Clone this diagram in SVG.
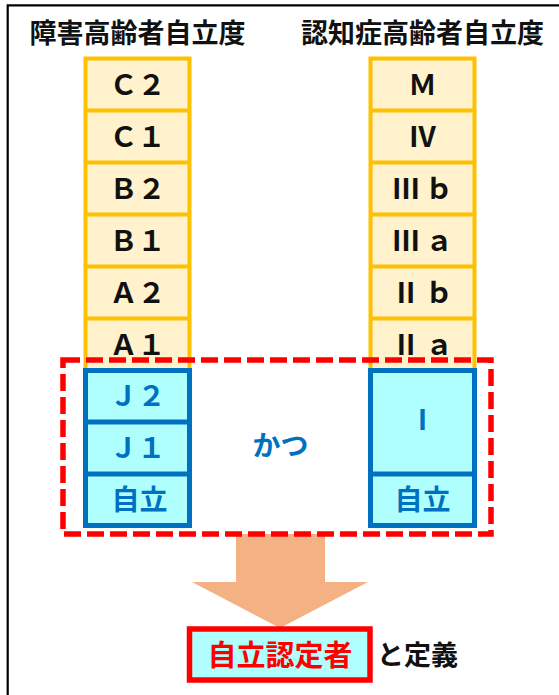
<svg xmlns="http://www.w3.org/2000/svg" width="559" height="695" viewBox="0 0 559 695">
<style>
text{font-family:"Noto Sans CJK JP","Noto Sans CJK SC",sans-serif;font-weight:bold;text-anchor:middle}
.t{font-size:27px;fill:#111}
.o{fill:#FFF2CC;stroke:#FFC000;stroke-width:4}
.b{fill:#B0FFFF;stroke:#0070C0;stroke-width:5}
.bl{stroke:#0070C0;stroke-width:5}
.ol{stroke:#FFC000;stroke-width:4}
.k{font-size:28px;fill:#111}
.u{font-size:28px;fill:#0070C0}
</style>
<rect width="559" height="695" fill="#fff"/>
<path d="M7.7 695V5.3H560" fill="none" stroke="#000" stroke-width="2.2"/>
<g id="title-left"><text class="t" x="137.5" y="43">障害高齢者自立度</text></g>
<g id="title-right"><text class="t" x="422.5" y="43">認知症高齢者自立度</text></g>
<g id="left-orange">
<rect class="o" x="85.5" y="58.5" width="104" height="312"/>
<path class="ol" d="M85.5 110.5H189.5M85.5 162.5H189.5M85.5 214.5H189.5M85.5 266.5H189.5M85.5 318.5H189.5"/>
<text class="k" x="137.5" y="95">Ｃ２</text>
<text class="k" x="137.5" y="147">Ｃ１</text>
<text class="k" x="137.5" y="199">Ｂ２</text>
<text class="k" x="137.5" y="251">Ｂ１</text>
<text class="k" x="137.5" y="303">Ａ２</text>
<text class="k" x="137.5" y="355">Ａ１</text>
</g>
<g id="right-orange">
<rect class="o" x="370.5" y="58.5" width="104" height="312"/>
<path class="ol" d="M370.5 110.5H474.5M370.5 162.5H474.5M370.5 214.5H474.5M370.5 266.5H474.5M370.5 318.5H474.5"/>
<text class="k" x="422.5" y="95">Ｍ</text>
<text class="k" x="422.5" y="147">Ⅳ</text>
<text class="k" x="422.5" y="199">Ⅲ<tspan dx="5">ｂ</tspan></text>
<text class="k" x="422.5" y="251">Ⅲ<tspan dx="5">ａ</tspan></text>
<text class="k" x="422.5" y="303">Ⅱ<tspan dx="5">ｂ</tspan></text>
<text class="k" x="422.5" y="355">Ⅱ<tspan dx="5">ａ</tspan></text>
</g>
<g id="connectors">
<polygon points="236,534 325,534 325,582 368,582 280,628 192,582 236,582" fill="#F4B183"/>
</g>
<g id="left-blue">
<rect class="b" x="85.5" y="370.5" width="104" height="155"/>
<path class="bl" d="M85.5 422H189.5M85.5 474H189.5"/>
<text class="u" x="137.5" y="406">Ｊ２</text>
<text class="u" x="137.5" y="458">Ｊ１</text>
<text class="u" x="139.5" y="510">自立</text>
</g>
<g id="right-blue">
<rect class="b" x="370.5" y="370.5" width="104" height="155"/>
<path class="bl" d="M370.5 474H474.5"/>
<text class="u" x="422.5" y="430">Ⅰ</text>
<text class="u" x="422.5" y="510">自立</text>
</g>
<g id="katsu"><text class="u" x="280.5" y="456">かつ</text></g>
<g id="group-frame"><rect x="63" y="360" width="428" height="174" fill="none" stroke="#FF0000" stroke-width="5.5" stroke-dasharray="17 6"/></g>
<g id="result">
<rect x="189.5" y="629" width="180.5" height="51" fill="#B0FFFF" stroke="#FF0000" stroke-width="5.5"/>
<text x="280" y="666" style="font-size:29px;fill:#FF0000">自立認定者</text>
</g>
<g id="def"><text x="377" y="665" style="font-size:27px;fill:#111;text-anchor:start">と定義</text></g>
</svg>
